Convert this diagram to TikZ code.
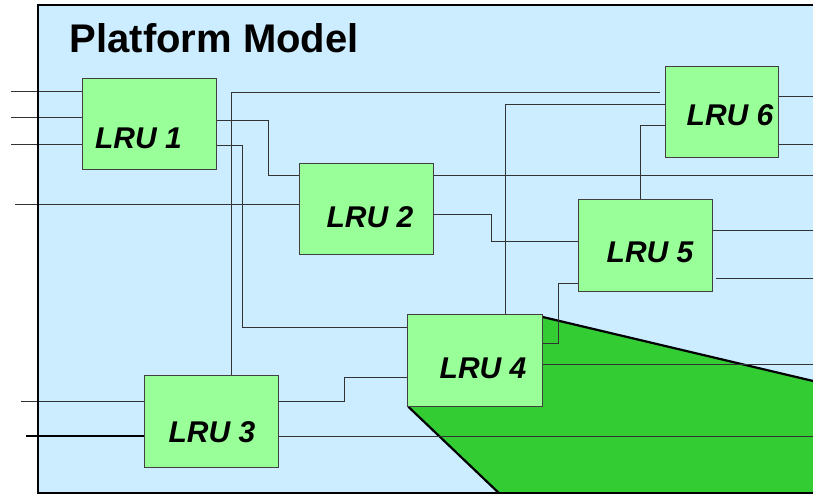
\documentclass[tikz,border=0pt]{standalone}
\usepackage{fontspec}
\setmainfont{Liberation Sans}
\definecolor{skyblue}{HTML}{CCECFF}
\definecolor{lrugreen}{HTML}{99FF99}
\definecolor{grassgreen}{HTML}{33CC33}
\begin{document}
\begin{tikzpicture}[x=1pt, y=-1pt, lru/.style={draw=black!75, fill=lrugreen, line width=1pt, minimum width=134.5pt, minimum height=91.5pt, inner sep=0pt}, lrutext/.style={anchor=base, inner sep=0pt, font=\bfseries\itshape\fontsize{30}{36}\selectfont}, wire/.style={draw=black!80, line width=1pt}]
	\useasboundingbox (0,0) rectangle (813,494);
	\fill[skyblue] (37.5,5.5) rectangle (830,492.5);
	\fill[grassgreen] (542.7,317) -- (830,385) -- (830,492.5) -- (498.3,492.5) -- (408.3,406.7) -- cycle;
	\draw[line width=2.2pt] (542.7,317) -- (830,385);
	\draw[line width=2.2pt] (408.3,406.7) -- (498.3,492.5);
	\node[anchor=base west, inner sep=0pt, font=\bfseries\fontsize{40}{48}\selectfont] (title) at (69.5,53) {Platform Model};
	\node[lru] (L1) at (149.6,124.2) {};
	\node[lru] (L2) at (366.5,209.2) {};
	\node[lru, minimum width=112.6pt] (L6) at (722,112) {};
	\node[lru] (L5) at (645.3,245.5) {};
	\node[lru] (L3) at (211.3,421.5) {};
	\node[lru] (L4) at (475,360.7) {};
	\coordinate (a1) at (11,92);
	\coordinate (a2) at (11,118);
	\coordinate (a3) at (11,145);
	\coordinate (a4) at (15,205);
	\coordinate (a5) at (21,401);
	\coordinate (a6) at (26,436);
	\coordinate (o1) at (813,97);
	\coordinate (o2) at (813,145);
	\coordinate (o3) at (813,176);
	\coordinate (o4) at (813,231);
	\coordinate (o5) at (813,278);
	\coordinate (o6) at (813,364);
	\coordinate (o7) at (813,436);
	\draw[wire] (a1) -- (L1.west |- a1);
	\draw[wire] (a2) -- (L1.west |- a2);
	\draw[wire] (a3) -- (L1.west |- a3);
	\draw[wire] (a4) -- (L2.west |- a4);
	\draw[wire] (a5) -- (L3.west |- a5);
	\draw[wire, draw=black, line width=2.5pt] (a6) -- (L3.west |- a6);
	\draw[wire] (L1.east |- 0,121) -| (268,176) -- (L2.west |- 0,176);
	\draw[wire] (L1.east |- 0,146) -| (242.5,327) -- (L4.west |- 0,327);
	\draw[wire] (L3.north -| 231,0) |- ([xshift=-5pt]L6.west |- 0,93);
	\draw[wire] (L2.east |- o3) -- (o3);
	\draw[wire] (L2.east |- 0,215) -| (491.7,241.7) -- (L5.west |- 0,241.7);
	\draw[wire] (L4.north -| 505,0) |- (L6.west |- 0,105);
	\draw[wire] (L5.north -| 640,0) |- (L6.west |- 0,126);
	\draw[wire] (L6.east |- o1) -- (o1);
	\draw[wire] (L6.east |- o2) -- (o2);
	\draw[wire] (L5.east |- o4) -- (o4);
	\draw[wire] ([xshift=3pt]L5.east |- o5) -- (o5);
	\draw[wire] (L4.east |- 0,343) -| (558.5,283.3) -- (L5.west |- 0,283.3);
	\draw[wire] (L4.east |- o6) -- (o6);
	\draw[wire] (L3.east |- 0,401.7) -| (344.3,377.3) -- (L4.west |- 0,377.3);
	\draw[wire] (L3.east |- o7) -- (o7);
	\node[lrutext] (t1) at (138.5,148.3) {LRU 1};
	\node[lrutext] (t2) at (370,227.3) {LRU 2};
	\node[lrutext] (t6) at (730,126) {LRU 6};
	\node[lrutext] (t5) at (650,262) {LRU 5};
	\node[lrutext] (t3) at (212,442.7) {LRU 3};
	\node[lrutext] (t4) at (483,378.7) {LRU 4};
	\draw[line width=2pt] (830,5.5) -- (37.5,5.5) -- (37.5,492.5) -- (830,492.5);
\end{tikzpicture}
\end{document}
